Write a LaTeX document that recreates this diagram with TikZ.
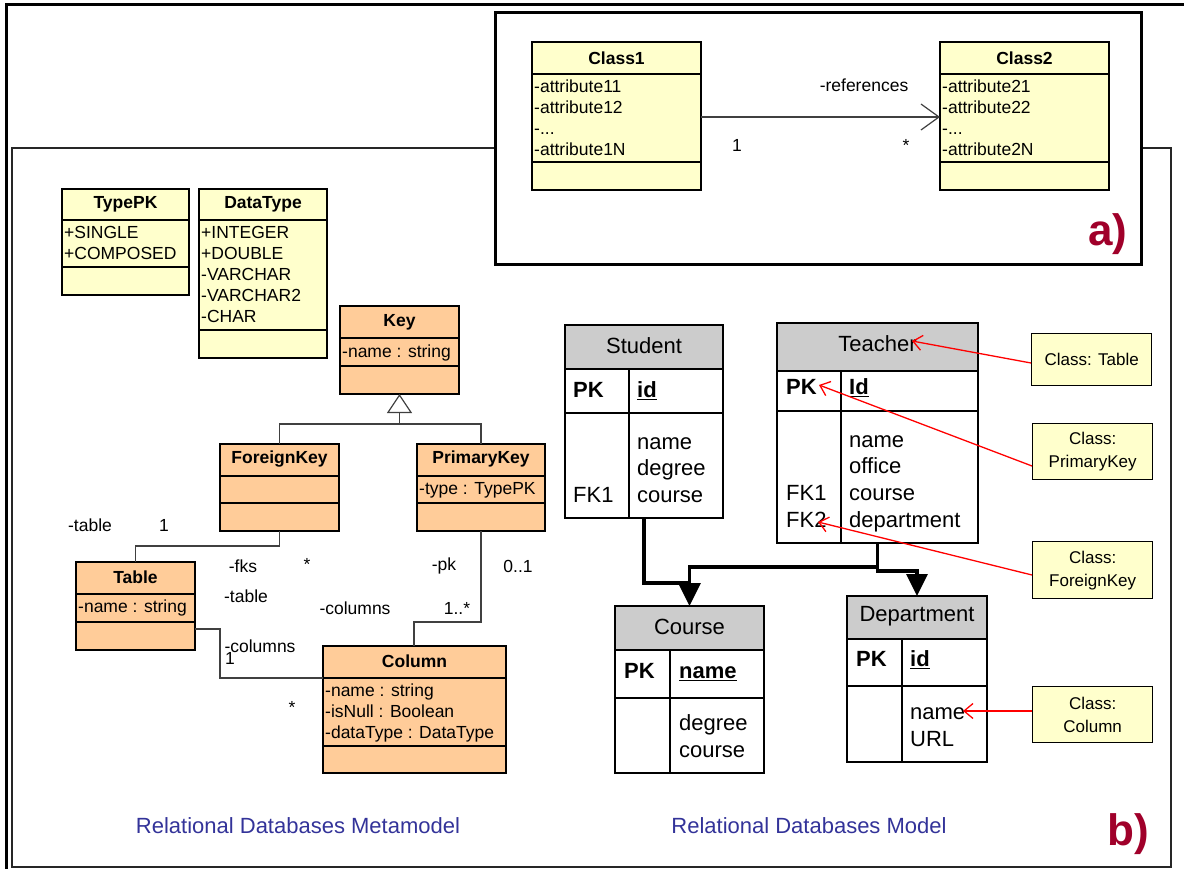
\documentclass[tikz,border=0pt]{standalone}
\usepackage{fontspec}
\setmainfont{Liberation Sans}
\usetikzlibrary{arrows.meta,calc}
\definecolor{clsyellow}{HTML}{FFFFCC}
\definecolor{clsorange}{HTML}{FFCC99}
\definecolor{hdrgray}{HTML}{CCCCCC}
\definecolor{capblue}{HTML}{333399}
\definecolor{labred}{HTML}{A0002A}
\newcommand{\umlcls}[6]{\node[umlbox, fill=#6, minimum width={(#4-#2)*1pt}, minimum height={(#5-#3)*1pt}] (#1) at (#2,#3) {};}
\newcommand{\cmpline}[2]{\draw[cmp] (#1.west |- 0,#2) -- (#1.east |- 0,#2);}
\newcommand{\dbtable}[7]{\node[dbtab=#6, minimum width={(#4-#2)*1pt}, minimum height={(#5-#3)*1pt}] (#1) at (#2,#3) {};}
\begin{document}
\begin{tikzpicture}[x=1pt,y=-1pt,
  umlbox/.style={draw=black, line width=1.5pt, anchor=north west, inner sep=0pt, outer sep=0pt},
  cmp/.style={draw=black, line width=1.5pt},
  attr/.style={anchor=mid west, inner sep=0pt, yshift=-4pt, font=\fontsize{17.5}{21}\selectfont},
  hdr/.style={anchor=center, inner sep=0pt, font=\bfseries\fontsize{17.5}{21}\selectfont},
  assoc/.style={draw=black!75, line width=1.2pt},
  lbl/.style={anchor=center, inner sep=0pt, font=\fontsize{17.5}{21}\selectfont},
  dbtab/.style={draw=black, line width=1.8pt, fill=white, anchor=north west, inner sep=0pt, outer sep=0pt,
    path picture={\fill[hdrgray] (path picture bounding box.north west) rectangle ([yshift=-#1pt]path picture bounding box.north east);}},
  dbline/.style={draw=black, line width=1.8pt},
  dbtxt/.style={anchor=mid west, inner sep=0pt, yshift=-5pt, font=\fontsize{22}{26}\selectfont},
  dbkey/.style={anchor=mid west, inner sep=0pt, yshift=-5pt, font=\bfseries\fontsize{22}{26}\selectfont},
  dbhdr/.style={anchor=center, inner sep=0pt, font=\fontsize{22}{26}\selectfont},
  conn/.style={draw=black, line width=3.2pt},
  ann/.style={draw=black, line width=1.3pt, fill=clsyellow, anchor=north west, inner sep=0pt, align=center, font=\fontsize{17}{23}\selectfont},
  redarr/.style={draw=red, line width=1.3pt, -{Straight Barb[length=9pt,width=15pt]}},
  caption/.style={anchor=center, inner sep=0pt, text=capblue, font=\fontsize{22}{26}\selectfont},
  panel/.style={anchor=center, inner sep=0pt, text=labred, font=\bfseries\fontsize{44}{50}\selectfont}
]
\useasboundingbox (0,0) rectangle (1184,869);
% outer frame
\draw[line width=3pt] (6,869) -- (6,5) -- (1184,5);
% frame b
\draw[draw=black!85, line width=2pt] (494,148) -- (12,148) -- (12,867) -- (1171,867) -- (1171,148) -- (1140,148);
% frame a
\node[draw=black, line width=2.8pt, fill=white, anchor=north west, inner sep=0pt, minimum width=646pt, minimum height=252pt] (fra) at (494,11) {};
\node[panel] (pa) at (1108,234) {a)};

% ---- panel a classes
\umlcls{c1}{532}{42}{701}{190}{clsyellow}
\cmpline{c1}{74}\cmpline{c1}{162}
\node[hdr] (c1h) at (616.5,58) {Class1};
\node[attr] (c1a) at (534,86) {-attribute11};
\node[attr] (c1b) at (534,107) {-attribute12};
\node[attr] (c1c) at (534,128) {-...};
\node[attr] (c1d) at (534,149) {-attribute1N};
\umlcls{c2}{940}{42}{1109}{190}{clsyellow}
\cmpline{c2}{74}\cmpline{c2}{162}
\node[hdr] (c2h) at (1024.5,58) {Class2};
\node[attr] (c2a) at (942,86) {-attribute21};
\node[attr] (c2b) at (942,107) {-attribute22};
\node[attr] (c2c) at (942,128) {-...};
\node[attr] (c2d) at (942,149) {-attribute2N};
\draw[assoc, -{Straight Barb[length=18pt,width=26pt]}] (c1.east |- 0,117) -- (c2.west |- 0,117);
\node[lbl] (refl) at (864,85) {-references};
\node[lbl] (ref1) at (737,145) {1};
\node[lbl] (refs) at (906,145) {*};

% ---- metamodel
\umlcls{tpk}{62}{189}{189}{295}{clsyellow}
\cmpline{tpk}{220}\cmpline{tpk}{267}
\node[hdr] (tpkh) at (125.5,204) {TypePK};
\node[attr] (tpka) at (64,232) {+SINGLE};
\node[attr] (tpkb) at (64,253) {+COMPOSED};

\umlcls{dty}{199}{189}{327}{358}{clsyellow}
\cmpline{dty}{220}\cmpline{dty}{330}
\node[hdr] (dtyh) at (263,204) {DataType};
\node[attr] (dtya) at (201,232) {+INTEGER};
\node[attr] (dtyb) at (201,253) {+DOUBLE};
\node[attr] (dtyc) at (201,274) {-VARCHAR};
\node[attr] (dtyd) at (201,295) {-VARCHAR2};
\node[attr] (dtye) at (201,316) {-CHAR};

\umlcls{key}{340}{306}{459}{394}{clsorange}
\cmpline{key}{338}\cmpline{key}{366}
\node[hdr] (keyh) at (399.5,322) {Key};
\node[attr] (keya) at (342,351) {-name : string};

\umlcls{fk}{220}{444}{339}{531}{clsorange}
\cmpline{fk}{476}\cmpline{fk}{503}
\node[hdr] (fkh) at (279.5,459) {ForeignKey};

\umlcls{pk}{417}{444}{545}{531}{clsorange}
\cmpline{pk}{476}\cmpline{pk}{503}
\node[hdr] (pkh) at (481,459) {PrimaryKey};
\node[attr] (pka) at (419,488) {-type : TypePK};

\umlcls{tbl}{76}{562}{195}{650}{clsorange}
\cmpline{tbl}{594}\cmpline{tbl}{622}
\node[hdr] (tblh) at (135.5,577) {Table};
\node[attr] (tbla) at (78,606) {-name : string};

\umlcls{col}{323}{646}{506}{773}{clsorange}
\cmpline{col}{678}\cmpline{col}{746}
\node[hdr] (colh) at (414.5,661) {Column};
\node[attr] (cola) at (325,690) {-name : string};
\node[attr] (colb) at (325,711) {-isNull : Boolean};
\node[attr] (colc) at (325,732) {-dataType : DataType};

% generalization
\coordinate (gj) at (399.5,424);
\draw[assoc] (fk.north) |- (gj);
\draw[assoc] (pk.north) |- (gj);
\draw[assoc, -{Triangle[open, length=19pt, width=25pt]}, fill=white] (gj) -- (key.south);

% associations
\draw[assoc] (fk.south) -- (fk.south |- 0,546) -| (tbl.north);
\draw[assoc] (tbl.east |- 0,629) -- (220,629) |- (col.west |- 0,678);
\draw[assoc] (pk.south) |- (414,622) -- (col.north -| 414,0);
\node[lbl] (la1) at (90,525) {-table};
\node[lbl] (la2) at (164,525) {1};
\node[lbl] (la3) at (243,566) {-fks};
\node[lbl] (la4) at (307,564) {*};
\node[lbl] (lb1) at (246,596) {-table};
\node[lbl] (lb2) at (260,646) {-columns};
\node[lbl] (lb3) at (230,658) {1};
\node[lbl] (lb4) at (292,707) {*};
\node[lbl] (lc1) at (444,566) {-pk};
\node[lbl] (lc2) at (518,566) {0..1};
\node[lbl] (lc3) at (355,608) {-columns};
\node[lbl] (lc4) at (457,608) {1..*};

\node[caption] (cap1) at (298,826) {Relational Databases Metamodel};
\node[caption] (cap2) at (809,826) {Relational Databases Model};
\node[panel] (pb) at (1128,834) {b)};

% ---- model tables
\dbtable{stu}{565}{325}{723}{518}{44}{}
\draw[dbline] (stu.west |- 0,369) -- (stu.east |- 0,369);
\draw[dbline] (stu.west |- 0,413) -- (stu.east |- 0,413);
\draw[dbline] (629,369) -- (stu.south -| 629,0);
\node[dbhdr] (stuh) at (644,346) {Student};
\node[dbkey] (stuk) at (573,390) {PK};
\node[dbkey] (stui) at (637,390) {\underline{id}};
\node[dbtxt] (stu1) at (637,442) {name};
\node[dbtxt] (stu2) at (637,468) {degree};
\node[dbtxt] (stu3) at (637,495) {course};
\node[dbtxt] (stuf) at (573,495) {FK1};

\dbtable{tea}{777}{323}{978}{543}{48}{}
\draw[dbline] (tea.west |- 0,371) -- (tea.east |- 0,371);
\draw[dbline] (tea.west |- 0,411) -- (tea.east |- 0,411);
\draw[dbline] (841,371) -- (tea.south -| 841,0);
\node[dbhdr] (teah) at (877.5,344) {Teacher};
\node[dbkey] (teak) at (786,387) {PK};
\node[dbkey] (teai) at (849,387) {\underline{Id}};
\node[dbtxt] (tea1) at (849,440) {name};
\node[dbtxt] (tea2) at (849,466) {office};
\node[dbtxt] (tea3) at (849,493) {course};
\node[dbtxt] (tea4) at (849,520) {department};
\node[dbtxt] (teaf1) at (786,493) {FK1};
\node[dbtxt] (teaf2) at (786,520) {FK2};

\dbtable{crs}{615}{606}{764}{773}{44}{}
\draw[dbline] (crs.west |- 0,650) -- (crs.east |- 0,650);
\draw[dbline] (crs.west |- 0,698) -- (crs.east |- 0,698);
\draw[dbline] (670,650) -- (crs.south -| 670,0);
\node[dbhdr] (crsh) at (689.5,627) {Course};
\node[dbkey] (crsk) at (624,671) {PK};
\node[dbkey] (crsi) at (679,671) {\underline{name}};
\node[dbtxt] (crs1) at (679,723) {degree};
\node[dbtxt] (crs2) at (679,750) {course};

\dbtable{dep}{847}{596}{987}{762}{43}{}
\draw[dbline] (dep.west |- 0,639) -- (dep.east |- 0,639);
\draw[dbline] (dep.west |- 0,686) -- (dep.east |- 0,686);
\draw[dbline] (902,639) -- (dep.south -| 902,0);
\node[dbhdr] (deph) at (917,616) {Department};
\node[dbkey] (depk) at (856,659) {PK};
\node[dbkey] (depi) at (910,659) {\underline{id}};
\node[dbtxt] (dep1) at (910,712) {name};
\node[dbtxt] (dep2) at (910,739) {URL};

% model connectors
\draw[conn] (tea.south) |- (crs.north |- 0,567) -- (crs.north |- 0,584);
\draw[conn, -{Triangle[length=23pt,width=22pt]}] (stu.south) |- (crs.north |- 0,583) -- (crs.north);
\draw[conn, -{Triangle[length=22pt,width=21pt]}] (tea.south) |- (dep.north |- 0,571) -- (dep.north);

% annotations
\node[ann, minimum width=120pt, minimum height=52pt] (an1) at (1031,333) {Class: Table};
\node[ann, minimum width=120pt, minimum height=56pt] (an2) at (1032,423) {Class:\\PrimaryKey};
\node[ann, minimum width=120pt, minimum height=57pt] (an3) at (1032,541) {Class:\\ForeignKey};
\node[ann, minimum width=120pt, minimum height=56pt] (an4) at (1032,686) {Class:\\Column};
\coordinate (r1) at (912,341);
\coordinate (r2) at (819,385);
\coordinate (r3) at (818,522);
\coordinate (r4) at (963,711);
\draw[redarr] (an1.west |- 0,363) -- (r1);
\draw[redarr] (an2.west |- 0,466) -- (r2);
\draw[redarr] (an3.west |- 0,575) -- (r3);
\draw[redarr] (an4.west |- 0,711) -- (r4);
\end{tikzpicture}
\end{document}
